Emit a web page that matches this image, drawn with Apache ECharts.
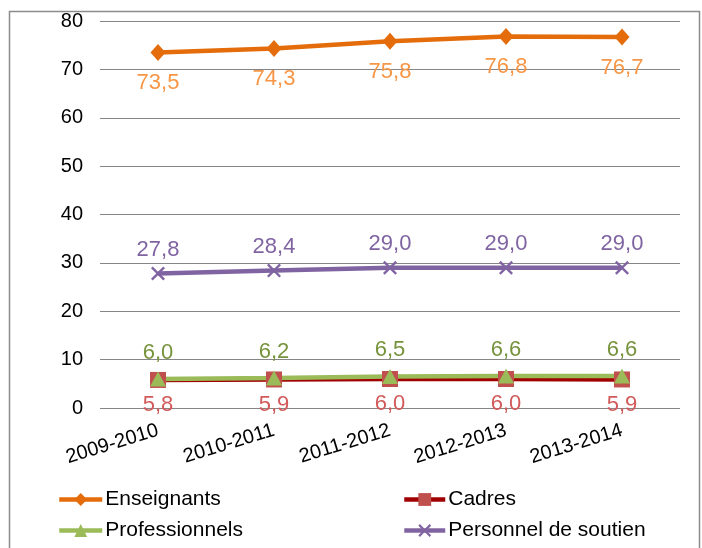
<!DOCTYPE html>
<html>
<head>
<meta charset="utf-8">
<script src="https://cdn.jsdelivr.net/npm/echarts@6/dist/echarts.min.js"></script>
<style>html,body{margin:0;padding:0;background:#fff;}#c{width:702px;height:548px;}</style>
</head>
<body>
<div id="c"></div>
<script>
const categories = ['2009-2010','2010-2011','2011-2012','2012-2013','2013-2014'];
const enseignants = [73.5, 74.3, 75.8, 76.8, 76.7];
const cadres = [5.8, 5.9, 6.0, 6.0, 5.9];
const professionnels = [6.0, 6.2, 6.5, 6.6, 6.6];
const soutien = [27.8, 28.4, 29.0, 29.0, 29.0];
const yTicks = [0, 10, 20, 30, 40, 50, 60, 70, 80];

const FONT = 'Liberation Sans, Arial, sans-serif';
const fmt = p => p.value.toFixed(1).replace('.', ',');
const crossPath = 'path://M0,1.2L1.2,0L5,3.8L8.8,0L10,1.2L6.2,5L10,8.8L8.8,10L5,6.2L1.2,10L0,8.8L3.8,5Z';

const chart = echarts.init(document.getElementById('c'));
chart.setOption({
  animation: false,
  backgroundColor: '#fff',
  graphic: [{
    type: 'rect', left: 7, top: 9,
    shape: { width: 690, height: 580 },
    style: { fill: 'none', stroke: '#8c8c8c', lineWidth: 1.5 },
    silent: true
  }],
  grid: { left: 100, right: 22, top: 21, bottom: 140 },
  xAxis: {
    type: 'category', data: categories, boundaryGap: true,
    axisLine: { show: false }, axisTick: { show: false },
    axisLabel: { rotate: 17, margin: 22, fontSize: 20, color: '#000', fontFamily: FONT, interval: 0 }
  },
  yAxis: {
    type: 'value', min: yTicks[0], max: yTicks[yTicks.length - 1], interval: 10,
    axisLine: { show: false }, axisTick: { show: false },
    axisLabel: { fontSize: 20, color: '#000', fontFamily: FONT, margin: 17 },
    splitLine: { lineStyle: { color: '#868686', width: 1.2 } }
  },
  legend: [{
    orient: 'vertical', left: 52, top: 484, itemWidth: 43, itemHeight: 16, itemGap: 10,
    lineStyle: { width: 4.5 },
    textStyle: { fontSize: 21, color: '#000', fontFamily: FONT, padding: [0, 0, 0, -2] },
    data: ['Enseignants', 'Professionnels']
  }, {
    orient: 'vertical', left: 397, top: 484, itemWidth: 41, itemHeight: 16, itemGap: 10,
    lineStyle: { width: 4.5 },
    textStyle: { fontSize: 21, color: '#000', fontFamily: FONT, padding: [0, 0, 0, -2] },
    data: ['Cadres', 'Personnel de soutien']
  }],
  series: [{
    name: 'Enseignants', type: 'line', data: enseignants,
    symbol: 'diamond', symbolSize: [15, 17],
    lineStyle: { color: '#E46C0A', width: 4.5 },
    itemStyle: { color: '#E46C0A' },
    label: { show: true, position: 'bottom', distance: 11, formatter: fmt, fontSize: 22, color: '#F79646', fontFamily: FONT }
  }, {
    name: 'Cadres', type: 'line', data: cadres,
    symbol: 'rect', symbolSize: 16,
    lineStyle: { color: '#A00000', width: 4.5 },
    itemStyle: { color: '#C0504D' },
    label: { show: true, position: 'bottom', distance: 6, formatter: fmt, fontSize: 22, color: '#D25A5A', fontFamily: FONT }
  }, {
    name: 'Professionnels', type: 'line', data: professionnels,
    symbol: 'triangle', symbolSize: [16, 15],
    lineStyle: { color: '#9BBB59', width: 4.5 },
    itemStyle: { color: '#9BBB59' },
    label: { show: true, position: 'top', distance: 8, formatter: fmt, fontSize: 22, color: '#77933C', fontFamily: FONT }
  }, {
    name: 'Personnel de soutien', type: 'line', data: soutien,
    symbol: crossPath, symbolSize: 14,
    lineStyle: { color: '#8064A2', width: 4.5 },
    itemStyle: { color: '#8064A2' },
    label: { show: true, position: 'top', distance: 6, formatter: fmt, fontSize: 22, color: '#8064A2', fontFamily: FONT }
  }]
});
</script>
</body>
</html>
